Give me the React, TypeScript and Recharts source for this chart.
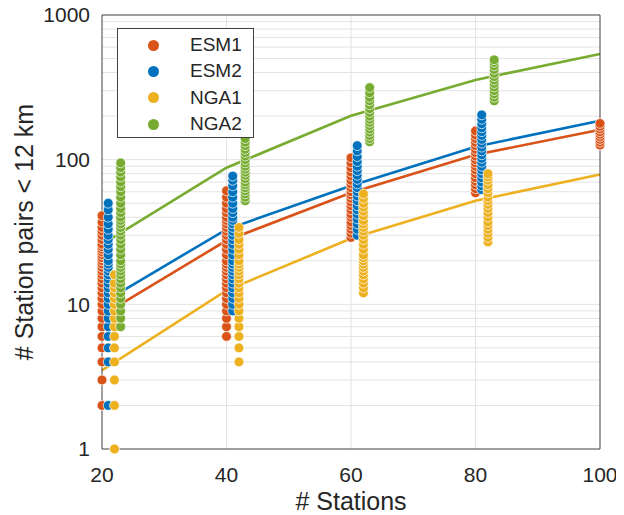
import { ComposedChart, Scatter, Line, XAxis, YAxis, CartesianGrid, Legend } from "recharts"

const FONT = "'Liberation Sans', Arial, Helvetica, sans-serif"
const INK = "#262626"
const FRAME = "#404040"

const xTicks = [20, 40, 60, 80, 100]
const xInnerTicks = [40, 60, 80]
const yTicks = [1, 10, 100, 1000]
const yMinorTicks = [2, 3, 4, 5, 6, 7, 8, 9, 20, 30, 40, 50, 60, 70, 80, 90, 200, 300, 400, 500, 600, 700, 800, 900]
const yGrid = [2, 3, 4, 5, 6, 7, 8, 9, 10, 20, 30, 40, 50, 60, 70, 80, 90, 100, 200, 300, 400, 500, 600, 700, 800, 900]

// fitted curves, evaluated at these station counts
const stations = [20, 40, 60, 80, 100]
const esm1Fit = [8.4, 27.6, 59, 108, 161]
const esm2Fit = [10.2, 33, 66, 123, 186]
const nga1Fit = [3.5, 12.5, 28.5, 52, 79]
const nga2Fit = [26, 88, 201, 356, 538]

// realisations: [x position, pair counts]
const esm1Pts: [number, number[]][] = [
  [20, [2, 3, 4, 5, 6, 7, 8, 9, 10, 11, 12, 13, 14, 15, 16, 17, 18, 19, 20, 21, 22, 23, 24, 25, 26, 28, 30, 32, 34, 37, 41]],
  [40, [6, 7, 8, 9, 10, 11, 12, 13, 14, 15, 16, 17, 18, 19, 20, 22, 24, 26, 28, 30, 32, 34, 36, 38, 40, 43, 46, 50, 55, 61]],
  [60, [29, 31, 33, 35, 37, 40, 42, 45, 48, 51, 54, 57, 60, 64, 68, 72, 77, 82, 88, 95, 103]],
  [80, [59, 63, 67, 71, 75, 80, 85, 90, 95, 100, 106, 112, 118, 125, 132, 140, 148, 158]],
  [100, [126, 132, 138, 144, 150, 156, 163, 170, 178]],
]
const esm2Pts: [number, number[]][] = [
  [21, [2, 4, 5, 6, 7, 8, 9, 10, 11, 12, 13, 14, 15, 16, 17, 18, 19, 20, 22, 24, 26, 28, 30, 33, 36, 40, 45, 50]],
  [41, [9, 10, 11, 12, 13, 14, 15, 16, 17, 18, 19, 20, 22, 24, 26, 28, 30, 32, 34, 36, 38, 40, 43, 46, 50, 55, 60, 66, 72, 77]],
  [61, [30, 33, 36, 39, 42, 45, 48, 52, 56, 60, 64, 68, 73, 78, 84, 90, 97, 105, 115, 125]],
  [81, [62, 66, 70, 75, 80, 85, 90, 96, 102, 108, 115, 122, 130, 138, 147, 156, 166, 177, 190, 204]],
]
const nga1Pts: [number, number[]][] = [
  [22, [1, 2, 3, 4, 5, 6, 7, 8, 9, 10, 11, 12, 13, 14, 16]],
  [42, [4, 5, 6, 7, 8, 9, 10, 11, 12, 13, 14, 15, 16, 17, 18, 19, 20, 22, 24, 26, 28, 31, 34]],
  [62, [12, 13, 14, 15, 16, 17, 18, 19, 20, 21, 22, 24, 26, 28, 30, 32, 34, 36, 38, 41, 44, 47, 50, 54, 58]],
  [82, [27, 29, 31, 33, 35, 37, 40, 43, 46, 49, 52, 55, 59, 63, 67, 72, 76, 80]],
]
const nga2Pts: [number, number[]][] = [
  [23, [7, 8, 9, 10, 11, 12, 13, 14, 15, 16, 17, 18, 19, 20, 22, 24, 26, 28, 30, 32, 34, 36, 38, 40, 43, 46, 50, 55, 60, 65, 70, 76, 82, 88, 95]],
  [43, [52, 55, 58, 61, 64, 67, 70, 74, 78, 82, 86, 90, 95, 100, 106, 112, 118, 125, 132, 140]],
  [63, [133, 140, 147, 155, 163, 172, 181, 190, 200, 212, 225, 240, 255, 270, 290, 315]],
  [83, [255, 270, 285, 300, 318, 336, 355, 375, 395, 420, 445, 470, 490]],
]

const seriesNames = ["ESM1", "ESM2", "NGA1", "NGA2"]
const seriesColors = ["#D95319", "#0072BD", "#EDB120", "#77AC30"]
const seriesFits = [esm1Fit, esm2Fit, nga1Fit, nga2Fit]
const seriesPts = [esm1Pts, esm2Pts, nga1Pts, nga2Pts]

const toPoints = (groups: [number, number[]][]) =>
  groups.flatMap(([x, vals]) => vals.map((y) => ({ x, y })))

const toLine = (fit: number[]) => stations.map((x, i) => ({ x, y: fit[i] }))

const dot = (color: string) => (props: any) =>
  <circle cx={props.cx} cy={props.cy} r={4.9} fill={color} stroke="#fff" strokeWidth={0.7} />

function LegendBox() {
  return (
    <div
      style={{
        boxSizing: "border-box",
        width: 137,
        height: 110,
        border: `1px solid ${FRAME}`,
        background: "#fff",
        paddingTop: 3,
        fontFamily: FONT,
        fontSize: 19,
        color: INK,
      }}
    >
      {seriesNames.map((name, i) => (
        <div key={name} style={{ display: "flex", alignItems: "center", height: 26.3 }}>
          <span
            style={{
              display: "inline-block",
              width: 11,
              height: 11,
              borderRadius: "50%",
              background: seriesColors[i],
              marginLeft: 30,
              marginRight: 31,
            }}
          />
          <span>{name}</span>
        </div>
      ))}
    </div>
  )
}

export default function App() {
  const tickStyle = { fontSize: 21, fill: INK, fontFamily: FONT }
  return (
    <div style={{ width: 624, height: 515, margin: "-8px 0 0 -8px" }}>
      <ComposedChart width={624} height={515} margin={{ top: 15, right: 24, bottom: 0, left: 0 }}>
        <CartesianGrid stroke="#e3e3e3" horizontalValues={yGrid} verticalValues={xInnerTicks} />
        <XAxis
          type="number"
          dataKey="x"
          domain={[20, 100]}
          ticks={xTicks}
          interval={0}
          height={66}
          tickLine={false}
          tickSize={0}
          tickMargin={18}
          tick={tickStyle}
          axisLine={{ stroke: FRAME }}
          label={{ value: "# Stations", position: "insideBottom", offset: 5, style: { fontSize: 25, fill: INK, fontFamily: FONT } }}
        />
        <XAxis xAxisId="bt" type="number" orientation="bottom" mirror height={1} domain={[20, 100]} allowDataOverflow
          ticks={xInnerTicks} interval={0} tick={false} tickSize={6} tickLine={{ stroke: FRAME }} axisLine={false} />
        <XAxis xAxisId="tp" type="number" orientation="top" mirror height={1} domain={[20, 100]} allowDataOverflow
          ticks={xInnerTicks} interval={0} tick={false} tickSize={6} tickLine={{ stroke: FRAME }} axisLine={{ stroke: FRAME }} />
        <YAxis
          type="number"
          dataKey="y"
          scale="log"
          domain={[1, 1000]}
          ticks={yTicks}
          interval={0}
          width={102}
          tickLine={false}
          tickSize={0}
          tickMargin={12}
          tick={tickStyle}
          axisLine={{ stroke: FRAME }}
          label={{
            value: "# Station pairs < 12 km",
            angle: -90,
            position: "insideLeft",
            offset: 24,
            style: { textAnchor: "middle", fontSize: 25, fill: INK, fontFamily: FONT },
          }}
        />
        <YAxis yAxisId="lmaj" type="number" scale="log" orientation="left" mirror width={1} domain={[1, 1000]} allowDataOverflow
          ticks={yTicks} interval={0} tick={false} tickSize={6} tickLine={{ stroke: FRAME }} axisLine={false} />
        <YAxis yAxisId="lmin" type="number" scale="log" orientation="left" mirror width={1} domain={[1, 1000]} allowDataOverflow
          ticks={yMinorTicks} interval={0} tick={false} tickSize={3} tickLine={{ stroke: FRAME }} axisLine={false} />
        <YAxis yAxisId="rmaj" type="number" scale="log" orientation="right" mirror width={1} domain={[1, 1000]} allowDataOverflow
          ticks={yTicks} interval={0} tick={false} tickSize={6} tickLine={{ stroke: FRAME }} axisLine={{ stroke: FRAME }} />
        <YAxis yAxisId="rmin" type="number" scale="log" orientation="right" mirror width={1} domain={[1, 1000]} allowDataOverflow
          ticks={yMinorTicks} interval={0} tick={false} tickSize={3} tickLine={{ stroke: FRAME }} axisLine={false} />

        {seriesNames.map((name, i) => (
          <Scatter
            key={`pts-${name}`}
            name={name}
            data={toPoints(seriesPts[i])}
            fill={seriesColors[i]}
            shape={dot(seriesColors[i])}
            isAnimationActive={false}
          />
        ))}
        {seriesNames.map((name, i) => (
          <Line
            key={`fit-${name}`}
            data={toLine(seriesFits[i])}
            dataKey="y"
            type="linear"
            stroke={seriesColors[i]}
            strokeWidth={2.6}
            dot={false}
            activeDot={false}
            legendType="none"
            isAnimationActive={false}
          />
        ))}
        <Legend
          layout="vertical"
          align="center"
          verticalAlign="middle"
          content={() => <LegendBox />}
          wrapperStyle={{ left: 117, top: 28, width: 137, height: 110 }}
        />
      </ComposedChart>
    </div>
  )
}
